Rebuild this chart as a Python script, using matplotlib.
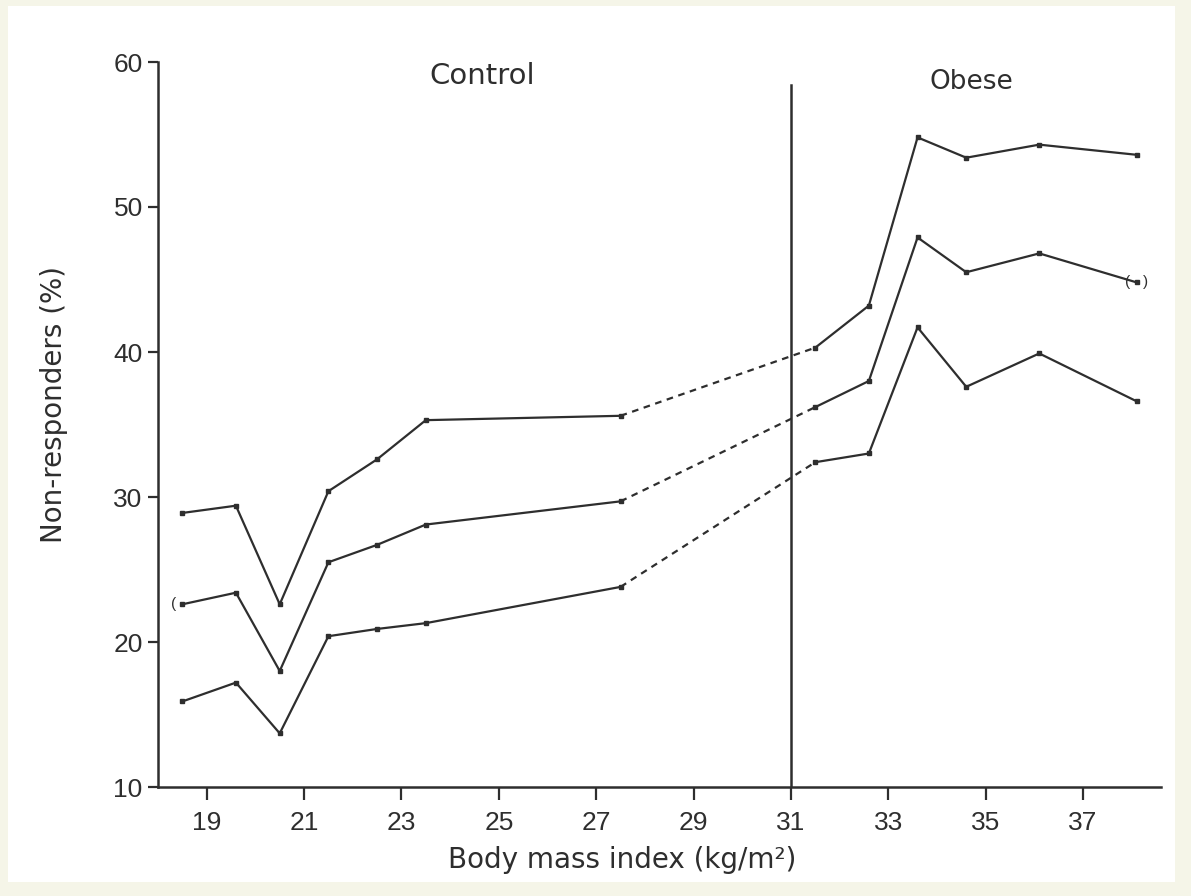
import matplotlib.pyplot as plt
from matplotlib.patches import Rectangle

# body mass index positions
bmi_control = [18.5, 19.6, 20.5, 21.5, 22.5, 23.5, 27.5]
bmi_obese = [31.5, 32.6, 33.6, 34.6, 36.1, 38.1]

# non-responders (%) - upper, mean, lower curves
upper_control = [28.9, 29.4, 22.6, 30.4, 32.6, 35.3, 35.6]
upper_obese = [40.3, 43.2, 54.8, 53.4, 54.3, 53.6]
mean_control = [22.6, 23.4, 18.0, 25.5, 26.7, 28.1, 29.7]
mean_obese = [36.2, 38.0, 47.9, 45.5, 46.8, 44.8]
lower_control = [15.9, 17.2, 13.7, 20.4, 20.9, 21.3, 23.8]
lower_obese = [32.4, 33.0, 41.7, 37.6, 39.9, 36.6]

xticks = [19, 21, 23, 25, 27, 29, 31, 33, 35, 37]
yticks = [10, 20, 30, 40, 50, 60]

ink = "#2e2e2e"
cream = "#f5f5e8"


def main():
    fig = plt.figure(figsize=(11.91, 8.96), dpi=100, facecolor=cream)
    bg = Rectangle((8 / 1191, 14 / 896), 1 - 24 / 1191, 1 - 20 / 896,
                   transform=fig.transFigure, facecolor="white",
                   edgecolor="none", zorder=-10)
    fig.patches.append(bg)
    ax = fig.add_axes([158 / 1191, 1 - 787 / 896, (1161 - 158) / 1191, (787 - 62) / 896])
    ax.set_facecolor("none")
    ax.set_zorder(5)

    tick_font = ["Liberation Sans", "DejaVu Sans"]
    text_font = ["DejaVu Sans"]

    for ctrl, obese in [(upper_control, upper_obese),
                        (mean_control, mean_obese),
                        (lower_control, lower_obese)]:
        ax.plot(bmi_control, ctrl, color=ink, lw=1.6, marker="s", ms=3.5)
        ax.plot(bmi_obese, obese, color=ink, lw=1.6, marker="s", ms=3.5)
        ax.plot([bmi_control[-1], bmi_obese[0]], [ctrl[-1], obese[0]],
                color=ink, lw=1.6, ls=(0, (3, 2.5)))

    # divider between control and obese groups
    ax.plot([31, 31], [10, 58.4], color=ink, lw=1.8)

    ax.text(24.65, 59.0, "Control", ha="center", va="center", fontsize=21,
            color=ink, family=text_font)
    ax.text(34.7, 58.6, "Obese", ha="center", va="center", fontsize=19,
            color=ink, family=text_font)

    # small brackets around the mean curve end points
    ax.text(bmi_control[0], mean_control[0], "(    ", ha="center", va="center",
            fontsize=11, color=ink, family=tick_font)
    ax.text(bmi_obese[-1], mean_obese[-1], "(   )", ha="center", va="center",
            fontsize=11, color=ink, family=tick_font)

    ax.set_xlim(18.0, 38.6)
    ax.set_ylim(10, 60)
    ax.set_xticks(xticks)
    ax.set_yticks(yticks)
    ax.spines["top"].set_visible(False)
    ax.spines["right"].set_visible(False)
    for s in ["left", "bottom"]:
        ax.spines[s].set_color(ink)
        ax.spines[s].set_linewidth(1.8)
    ax.tick_params(axis="x", length=9, width=1.6, color=ink, labelsize=19,
                   labelcolor=ink, pad=8)
    ax.tick_params(axis="y", length=7, width=1.6, color=ink, labelsize=19,
                   labelcolor=ink, pad=4)
    for lab in ax.get_xticklabels() + ax.get_yticklabels():
        lab.set_family(tick_font)

    ax.set_xlabel("Body mass index (kg/m²)", fontsize=20, color=ink,
                  family=text_font)
    ax.xaxis.set_label_coords(0.463, -0.082)
    ax.set_ylabel("Non-responders (%)", fontsize=20, color=ink,
                  family=text_font)
    ax.yaxis.set_label_coords(-0.09, 0.527)

    fig.savefig("out.png", dpi=100, facecolor=cream)


if __name__ == '__main__':
    main()
